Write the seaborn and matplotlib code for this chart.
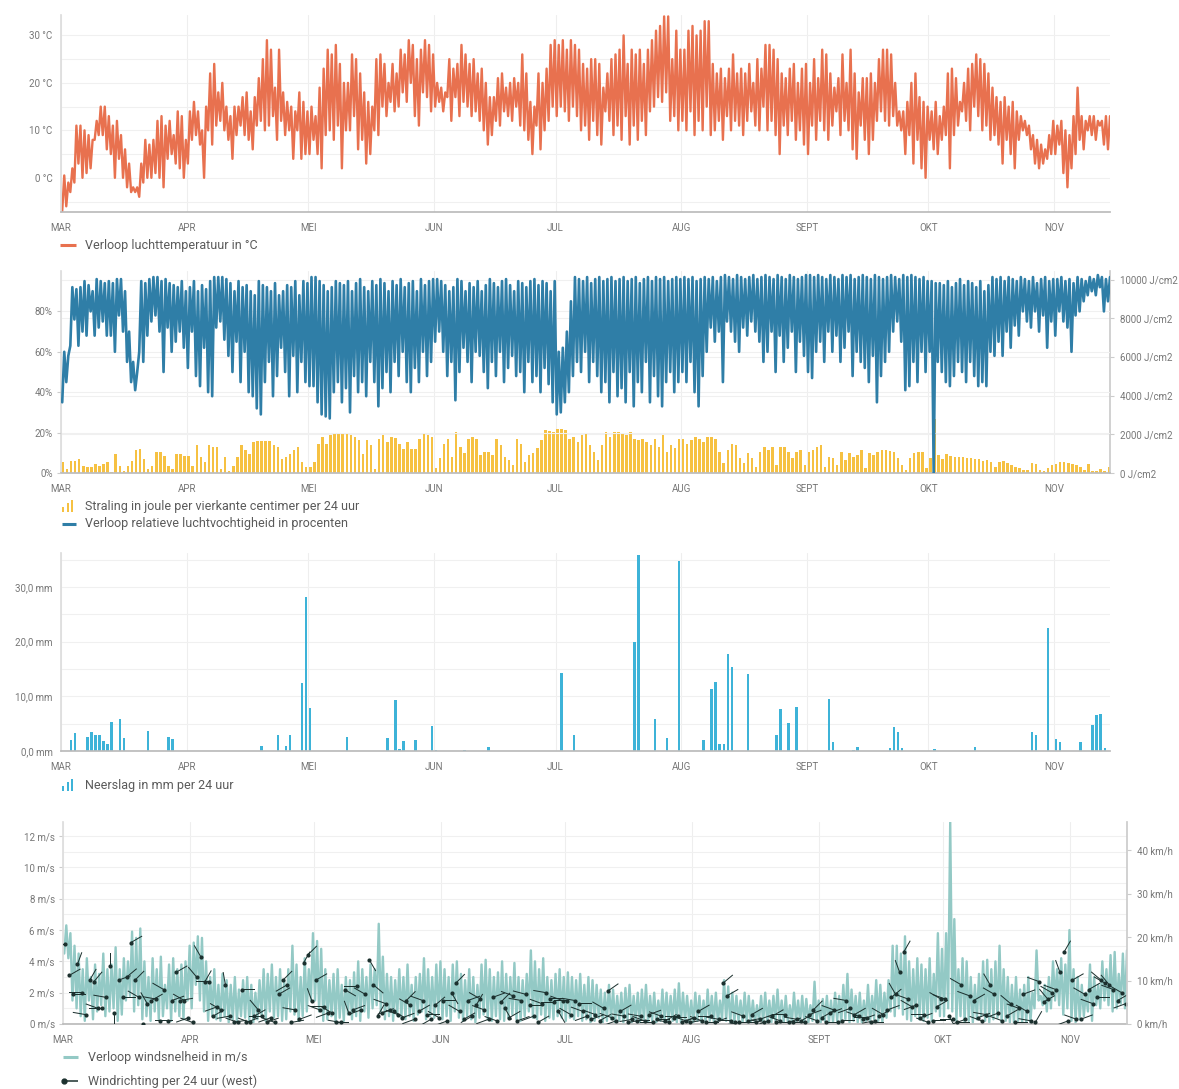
import numpy as np
import seaborn as sns
import matplotlib.pyplot as plt
from matplotlib.lines import Line2D
from matplotlib.patches import Rectangle

# months on the x axis (day index from 1 March)
month_labels = ['MAR', 'APR', 'MEI', 'JUN', 'JUL', 'AUG', 'SEPT', 'OKT', 'NOV']
month_start = [0, 31, 61, 92, 122, 153, 184, 214, 245]

# daily max / min air temperature (°C), Mar 1 .. Nov 14
temp_max = [0.5, -1, 2, 11, 11, 10, 9, 8, 12, 15, 15, 13, 11, 12, 9, 6, 3, -2, -2, 3, 8, 7, 8, 12, 13, 11, 12, 9, 14, 13, 8,
            14, 16, 14, 10, 15, 22, 24, 18, 20, 15, 13, 15, 15, 17, 18, 14, 17, 21, 25, 29, 27, 19, 27, 18, 16, 15, 14, 18, 16, 14,
            15, 13, 19, 23, 27, 26, 28, 24, 20, 20, 26, 25, 22, 18, 16, 15, 25, 26, 24, 20, 24, 22, 27, 26, 29, 28, 25, 27, 29, 28, 26,
            20, 19, 18, 25, 23, 24, 28, 26, 24, 25, 22, 23, 20, 17, 17, 21, 22, 19, 20, 21, 20, 26, 22, 16, 15, 22, 20, 23, 28, 29,
            28, 29, 27, 29, 28, 27, 24, 23, 25, 25, 24, 19, 22, 25, 26, 27, 30, 24, 27, 26, 27, 24, 27, 29, 31, 32, 34, 34, 25, 31, 27,
            27, 31, 32, 30, 31, 33, 33, 24, 22, 23, 21, 23, 26, 22, 23, 22, 24, 20, 25, 23, 28, 28, 27, 25, 22, 21, 23, 24, 20, 23, 24,
            20, 25, 21, 27, 26, 22, 19, 21, 26, 20, 27, 22, 18, 21, 21, 22, 20, 25, 27, 27, 26, 20, 14, 14, 16, 20, 22, 17, 16, 15,
            14, 16, 13, 15, 22, 23, 21, 16, 20, 23, 24, 26, 25, 24, 22, 19, 17, 16, 17, 15, 16, 14, 13, 12, 11, 9, 8, 7, 6, 9, 12,
            11, 12, 10, 9, 13, 19, 13, 12, 13, 13, 12, 12, 13, 13]
temp_min = [-7, -6, -3, -1, 3, 0, 1, 2, 8, 9, 9, 6, 5, 0, 4, 0, -2, -3, -3, -4, -1, 0, 0, 1, 0, -2, 4, 5, 3, 2, 0,
            3, 8, 9, 7, 0, 10, 7, 11, 12, 10, 8, 4, 9, 11, 9, 8, 6, 11, 12, 10, 11, 13, 8, 12, 9, 10, 4, 10, 4, 5,
            5, 8, 5, 2, 9, 10, 8, 11, 2, 10, 10, 13, 6, 8, 3, 5, 10, 9, 15, 13, 16, 14, 15, 18, 16, 20, 13, 11, 18, 17, 14,
            15, 16, 14, 17, 12, 17, 13, 16, 15, 13, 14, 12, 10, 7, 9, 12, 11, 14, 13, 12, 15, 11, 10, 8, 5, 11, 6, 10, 12, 15,
            13, 15, 14, 12, 15, 13, 10, 11, 8, 12, 9, 7, 14, 12, 9, 11, 8, 13, 7, 11, 8, 12, 9, 14, 15, 17, 16, 18, 12, 13, 10,
            12, 10, 14, 9, 12, 10, 15, 9, 10, 12, 8, 13, 10, 12, 11, 9, 12, 14, 11, 10, 15, 10, 12, 9, 5, 11, 9, 12, 8, 10, 7,
            5, 11, 8, 12, 10, 8, 11, 14, 9, 12, 10, 6, 4, 11, 8, 5, 8, 12, 14, 12, 11, 13, 11, 10, 5, 9, 3, 8, 2, 0,
            8, 6, 5, 8, 9, 2, 9, 11, 14, 12, 10, 15, 13, 10, 11, 8, 9, 7, 3, 8, 5, 2, 8, 10, 9, 6, 3, 2, 3, 4, 5,
            5, 7, 1, -2, 2, 5, 8, 6, 10, 9, 8, 11, 7, 6]

# daily max / min relative humidity (%)
hum_max = [60, 58, 92, 91, 92, 95, 93, 90, 96, 95, 94, 95, 94, 96, 96, 90, 70, 55, 50, 95, 94, 96, 97, 97, 95, 96, 94, 93, 92, 95, 90,
           92, 95, 90, 93, 91, 95, 97, 97, 97, 96, 94, 90, 95, 92, 93, 90, 88, 95, 93, 92, 90, 94, 88, 90, 93, 92, 95, 88, 95, 94,
           97, 97, 95, 93, 90, 92, 95, 94, 93, 95, 90, 94, 96, 92, 90, 95, 93, 96, 94, 90, 95, 93, 96, 92, 94, 95, 90, 96, 93, 95, 96,
           96, 95, 93, 90, 92, 96, 95, 90, 94, 92, 95, 90, 93, 96, 94, 92, 95, 96, 93, 90, 95, 94, 92, 95, 96, 93, 95, 94, 90, 95,
           60, 62, 70, 85, 97, 96, 95, 97, 94, 96, 97, 95, 96, 97, 95, 96, 97, 95, 96, 97, 94, 96, 97, 95, 97, 96, 97, 95, 96, 97, 96,
           97, 96, 97, 95, 96, 97, 96, 97, 95, 97, 98, 97, 96, 98, 97, 96, 97, 98, 96, 97, 98, 97, 96, 98, 97, 96, 98, 97, 96, 97, 98,
           98, 97, 98, 97, 96, 98, 97, 96, 98, 97, 98, 96, 97, 98, 97, 96, 98, 97, 96, 97, 98, 97, 96, 98, 97, 98, 97, 96, 97, 95,
           95, 94, 94, 93, 95, 92, 94, 96, 93, 95, 94, 92, 95, 90, 93, 97, 96, 97, 95, 97, 96, 95, 97, 96, 95, 97, 94, 96, 97, 95, 96,
           96, 97, 95, 96, 94, 97, 96, 95, 97, 96, 98, 97, 96, 97]
hum_min = [35, 45, 63, 76, 63, 70, 68, 80, 68, 72, 75, 68, 68, 60, 78, 70, 55, 45, 41, 60, 55, 68, 75, 78, 70, 50, 72, 60, 65, 70, 62,
           52, 70, 48, 43, 62, 40, 38, 72, 75, 66, 58, 50, 65, 45, 60, 40, 38, 32, 29, 45, 55, 38, 48, 62, 50, 38, 58, 40, 55, 45,
           43, 43, 35, 29, 28, 27, 40, 45, 35, 42, 30, 48, 40, 45, 38, 55, 45, 33, 42, 50, 40, 55, 48, 60, 45, 40, 52, 45, 60, 48, 55,
           65, 70, 60, 48, 55, 36, 50, 62, 55, 45, 60, 58, 50, 42, 55, 48, 60, 45, 52, 58, 48, 50, 40, 55, 45, 48, 40, 52, 44, 35,
           29, 30, 35, 40, 48, 55, 50, 60, 45, 55, 48, 40, 45, 35, 50, 38, 42, 35, 50, 33, 45, 40, 55, 35, 48, 38, 33, 45, 50, 40, 45,
           50, 45, 55, 40, 33, 48, 60, 72, 65, 70, 45, 75, 70, 65, 60, 72, 68, 75, 70, 65, 55, 60, 70, 50, 68, 55, 62, 70, 50, 65, 58,
           50, 47, 60, 65, 55, 70, 60, 68, 55, 62, 70, 48, 60, 55, 52, 45, 58, 35, 48, 55, 60, 70, 75, 65, 41, 43, 55, 45, 60, 50,
           60, 0, 55, 50, 45, 43, 48, 55, 50, 45, 55, 48, 43, 45, 43, 60, 58, 65, 58, 70, 62, 73, 68, 80, 75, 72, 80, 70, 78, 62, 75,
           68, 80, 75, 72, 60, 78, 80, 85, 88, 90, 88, 92, 80, 85]

# daily radiation (J/cm2)
radiation = [560, 210, 640, 640, 730, 380, 300, 300, 470, 380, 470, 560, 40, 990, 380, 120, 380, 640, 1170, 1250, 730, 210, 380, 1080, 1080, 900, 380, 210, 990, 990, 900,
             900, 380, 1430, 820, 560, 1430, 1340, 1340, 210, 820, 120, 380, 820, 1430, 1170, 990, 1600, 1640, 1640, 1640, 1640, 1430, 1340, 730, 820, 990, 1170, 1340, 560, 300,
             300, 560, 1510, 1860, 1510, 1950, 2030, 2070, 2070, 2030, 1950, 1860, 1690, 990, 1690, 1430, 210, 1770, 1950, 1600, 1860, 1810, 1510, 1250, 1600, 1250, 1250, 1770, 2030, 1950, 1860,
             240, 750, 1520, 1780, 840, 2120, 1350, 1010, 1780, 1860, 1780, 920, 1090, 1090, 920, 1780, 1440, 840, 670, 410, 1780, 1520, 580, 920, 1010, 1270, 1690, 2210, 2150, 2120,
             2290, 2290, 2210, 1780, 1860, 1610, 1950, 2030, 1440, 1090, 670, 1440, 2120, 1860, 2120, 2120, 2030, 1950, 2120, 1780, 1690, 1780, 1610, 1440, 1780, 1350, 1950, 1090, 1440, 1270, 1780,
             1780, 1520, 1690, 1860, 1780, 1610, 1860, 1860, 1780, 1090, 500, 1180, 1520, 1440, 750, 500, 1010, 750, 320, 1090, 1350, 1180, 1350, 410, 1350, 1350, 1090, 750, 1090, 1180, 410,
             1090, 1180, 1350, 1440, 320, 840, 750, 410, 1090, 670, 1010, 840, 920, 1180, 270, 1010, 920, 1090, 1180, 1180, 1130, 1090, 750, 410, 150, 750, 1010, 1060, 1090, 240,
             800, 2800, 950, 700, 1000, 900, 850, 850, 850, 750, 750, 700, 700, 600, 650, 550, 300, 550, 600, 500, 400, 300, 250, 150, 150, 500, 450, 150, 80, 250, 400,
             450, 550, 550, 500, 450, 400, 320, 150, 450, 80, 120, 200, 120, 300]

# rain (mm per 24 h): day index and amount, other days dry
rain_day = [2, 3, 6, 7, 8, 9, 10, 11, 12, 14, 15, 21, 26, 27, 49, 53, 55, 56, 59, 60,
            61, 70, 80, 82, 83, 84, 87, 91, 92, 99, 105, 123, 126, 141, 142, 146, 149, 152, 158, 160,
            161, 162, 163, 164, 165, 169, 176, 177, 179, 181, 189, 190, 195, 196, 204, 205, 206, 207, 215, 225,
            239, 240, 243, 245, 246, 251, 254, 255, 256, 257]
rain_mm = [2.1, 3.2, 2.6, 3.5, 3.0, 3.0, 1.8, 1.2, 5.3, 5.9, 2.4, 3.6, 2.6, 2.2, 0.9, 2.9, 0.9, 3.0, 12.4, 28.2,
           7.8, 2.6, 2.4, 9.3, 0.4, 1.9, 2.1, 4.5, 0.2, 0.2, 0.7, 14.2, 3.0, 20.0, 35.9, 5.9, 2.4, 34.7, 2.1, 11.4,
           12.7, 1.3, 1.3, 17.7, 15.3, 14.1, 3.0, 7.6, 5.2, 8.0, 9.5, 1.7, 0.2, 0.7, 0.6, 4.4, 3.5, 0.5, 0.3, 0.7,
           3.5, 2.9, 22.4, 2.2, 1.7, 1.7, 4.7, 6.5, 6.8, 0.6]

# daily max / min wind speed (m/s)
wind_max = [6.3, 5.8, 5.0, 4.5, 3.5, 4.2, 3.0, 3.8, 3.2, 4.5, 3.5, 3.8, 4.9, 3.5, 4.2, 4.0, 5.9, 5.5, 6.1, 4.0, 3.0, 4.2, 3.5, 4.3, 2.5, 3.8, 4.2, 3.5, 3.8, 4.0, 5.0,
            5.2, 5.6, 5.5, 4.0, 3.0, 3.5, 2.5, 3.2, 2.8, 2.5, 3.0, 2.2, 2.8, 3.0, 2.5, 2.0, 2.8, 3.5, 3.2, 3.8, 3.0, 3.5, 2.8, 3.5, 5.0, 3.8, 3.0, 4.2, 3.5, 5.8,
            5.3, 4.8, 3.5, 2.8, 3.2, 3.5, 2.5, 3.0, 2.8, 3.3, 4.0, 3.5, 3.0, 3.8, 3.5, 6.4, 4.3, 3.2, 3.0, 2.8, 3.5, 3.0, 3.8, 2.5, 3.0, 3.2, 4.2, 3.5, 3.0, 3.8, 4.0,
            3.5, 3.0, 3.8, 4.0, 3.2, 2.8, 3.5, 3.0, 2.5, 3.8, 4.1, 3.5, 3.0, 3.3, 4.0, 3.2, 3.0, 3.9, 3.0, 2.8, 3.2, 4.7, 4.0, 3.5, 4.2, 3.0, 2.8, 3.2, 3.5, 3.0,
            3.3, 3.0, 2.8, 3.2, 2.5, 3.0, 2.8, 2.5, 2.2, 2.0, 2.5, 2.2, 1.8, 2.0, 2.3, 2.5, 1.8, 2.0, 2.2, 2.5, 1.8, 2.0, 1.5, 2.2, 2.0, 1.8, 2.2, 2.6, 2.0, 1.8, 1.5,
            2.0, 1.8, 1.5, 2.2, 1.8, 2.0, 1.5, 2.8, 2.4, 2.0, 1.8, 1.5, 2.0, 1.8, 1.5, 1.2, 1.8, 2.0, 1.5, 1.8, 2.2, 1.5, 1.8, 1.2, 2.0, 1.5, 1.8, 1.6, 1.2, 2.7, 1.5,
            1.6, 1.8, 1.5, 2.0, 1.8, 2.5, 3.2, 2.2, 1.8, 2.0, 1.5, 2.5, 1.8, 2.8, 2.5, 2.0, 2.8, 5.0, 5.0, 4.5, 5.6, 4.0, 3.5, 4.2, 3.8, 3.5, 4.2, 3.2, 5.8, 4.8,
            5.8, 12.9, 6.7, 3.5, 4.2, 4.0, 3.0, 2.5, 3.2, 4.0, 4.1, 3.5, 4.0, 5.0, 3.5, 3.0, 2.5, 3.0, 2.2, 2.5, 3.0, 2.0, 4.7, 1.8, 2.5, 3.0, 4.0, 3.5, 4.2, 3.8, 6.0,
            3.5, 3.0, 2.5, 2.0, 3.8, 3.0, 2.5, 4.0, 3.5, 4.4, 4.6, 3.2, 4.5, 4.7]
wind_min = [4.5, 4.2, 1.5, 1.0, 0.5, 0.2, 1.5, 0.3, 0.8, 1.2, 0.5, 0.8, 1.0, 0.2, 0.6, 1.5, 1.8, 0.8, 1.2, 0.3, 0.5, 0.2, 0.8, 0.3, 0.5, 1.0, 0.2, 0.8, 0.5, 0.3, 1.5,
            1.0, 2.5, 1.5, 0.8, 0.2, 0.5, 0.3, 0.2, 0.5, 0.1, 0.3, 0.2, 0.5, 0.4, 0.2, 0.1, 0.3, 0.5, 0.2, 0.8, 0.4, 0.5, 0.2, 0.3, 0.8, 0.6, 0.2, 0.5, 0.8, 1.5,
            1.5, 0.8, 0.2, 0.3, 0.5, 0.1, 0.4, 0.2, 0.6, 0.3, 0.5, 0.2, 0.8, 0.4, 1.0, 1.2, 0.8, 0.3, 0.5, 0.2, 0.6, 0.4, 0.3, 0.5, 0.2, 0.6, 0.8, 0.3, 0.5, 0.4, 0.6,
            0.3, 0.5, 0.2, 0.8, 0.4, 0.2, 0.5, 0.3, 0.1, 0.4, 0.6, 0.3, 0.2, 0.5, 0.3, 0.2, 0.4, 0.6, 0.3, 0.2, 0.5, 0.8, 0.4, 0.3, 0.6, 0.2, 0.4, 0.3, 0.5, 0.4,
            0.2, 0.4, 0.3, 0.5, 0.2, 0.3, 0.1, 0.2, 0.4, 0.1, 0.2, 0.3, 0.1, 0.2, 0.1, 0.3, 0.1, 0.2, 0.1, 0.3, 0.1, 0.2, 0.1, 0.2, 0.1, 0.1, 0.2, 0.1, 0.1, 0.2, 0.1,
            0.1, 0.2, 0.1, 0.1, 0.2, 0.1, 0.1, 0.3, 0.2, 0.1, 0.1, 0.2, 0.1, 0.1, 0.1, 0.1, 0.2, 0.1, 0.1, 0.1, 0.2, 0.1, 0.1, 0.1, 0.1, 0.2, 0.1, 0.1, 0.1, 0.2, 0.1,
            0.1, 0.2, 0.1, 0.1, 0.2, 0.1, 0.3, 0.1, 0.2, 0.1, 0.1, 0.2, 0.1, 0.3, 0.2, 0.1, 0.4, 0.8, 0.5, 1.0, 0.6, 0.3, 0.2, 0.5, 0.3, 0.2, 0.4, 0.2, 0.8, 0.5,
            0.5, 1.0, 0.8, 0.2, 0.5, 0.1, 0.2, 0.1, 0.3, 0.5, 0.2, 0.1, 0.3, 0.4, 0.1, 0.2, 0.1, 0.1, 0.2, 0.1, 0.1, 0.1, 1.0, 1.5, 1.2, 0.8, 1.0, 1.5, 1.2, 0.6, 1.0,
            0.2, 0.1, 0.3, 0.5, 0.8, 0.2, 1.2, 1.0, 1.5, 1.2, 0.8, 1.0, 1.3, 1.0]

# daily wind direction marker: speed (m/s) and screen angle (degrees)
dir_speed = [5.1, 3.1, 1.9, 3.8, 2.0, 0.6, 2.8, 2.7, 1.0, 1.0, 1.7, 3.7, 0.7, 2.8, 1.7, 3.0, 5.2, 2.8, 1.7, 0.0, 1.3, 1.5, 1.6, 0.2, 2.2, 0.2, 1.5, 3.3, 1.5, 1.5, 0.4,
             0.1, 3.0, 4.3, 2.7, 2.7, 0.5, 1.1, 0.9, 2.5, 0.5, 0.1, 0.1, 2.2, 0.1, 0.1, 0.5, 0.9, 0.5, 0.1, 0.4, 0.1, 1.9, 2.8, 2.5, 0.1, 0.9, 0.3, 3.9, 4.4, 1.5,
             2.8, 0.9, 1.1, 0.7, 0.7, 0.1, 0.1, 2.2, 0.7, 0.9, 2.4, 0.9, 1.9, 4.1, 2.5, 0.5, 0.7, 1.3, 0.9, 0.8, 0.6, 0.4, 1.5, 1.2, 0.3, 0.8, 1.5, 0.6, 0.3, 1.2, 0.4,
             1.5, 0.2, 2.0, 2.6, 0.8, 0.3, 1.5, 0.5, 1.2, 1.6, 0.9, 0.3, 1.7, 0.2, 1.4, 1.0, 0.4, 1.8, 0.2, 1.5, 1.9, 1.2, 0.5, 0.1, 1.3, 2.0, 1.6, 1.4, 0.8, 1.5,
             1.5, 0.6, 1.5, 1.3, 0.8, 0.5, 0.3, 0.6, 0.2, 1.0, 2.1, 0.4, 0.2, 0.8, 0.5, 0.1, 0.3, 0.2, 0.5, 0.2, 0.6, 0.1, 0.3, 0.5, 0.2, 0.1, 0.4, 0.5, 0.1, 0.2, 0.1,
             0.4, 0.8, 0.2, 0.1, 0.5, 0.1, 0.3, 2.6, 1.8, 0.2, 0.1, 0.1, 0.5, 0.2, 0.6, 0.1, 0.3, 0.1, 0.2, 0.5, 0.1, 0.2, 0.6, 0.1, 0.1, 0.3, 0.2, 0.1, 0.6, 0.9, 0.2,
             0.4, 0.1, 0.7, 0.9, 0.1, 0.2, 1.5, 1.0, 0.6, 0.5, 0.3, 0.4, 0.1, 0.2, 0.5, 0.6, 0.9, 1.7, 1.9, 3.3, 4.6, 1.6, 1.1, 1.2, 0.4, 0.6, 0.1, 0.2, 1.1, 1.6,
             1.6, 0.5, 0.3, 0.1, 2.5, 0.3, 1.8, 1.5, 0.4, 0.2, 0.6, 2.5, 1.9, 0.7, 0.2, 0.5, 1.3, 0.1, 1.0, 1.9, 0.8, 0.2, 0.1, 2.7, 1.4, 1.6, 2.0, 2.2, 3.3, 4.6, 0.2,
             2.8, 0.3, 0.3, 1.9, 2.2, 1.3, 1.7, 2.8, 2.6, 2.5, 2.2, 1.5, 2.0, 1.3]
dir_angle = [180, 30, 0, 70, 180, 170, 60, 50, 160, 180, 170, 90, 270, 20, 0, 40, 30, 45, 150, 0, 120, 30, 170, 0, 150, 180, 20, 30, 10, 150, 200,
             160, 130, 120, 60, 180, 30, 200, 150, 100, 190, 10, 160, 0, 20, 160, 30, 130, 180, 20, 200, 160, 30, 45, 210, 10, 170, 20, 60, 45, 110,
             30, 160, 180, 200, 150, 0, 170, 330, 110, 20, 180, 200, 150, 300, 320, 60, 20, 160, 200, 330, 160, 20, 45, 150, 200, 30, 160, 0, 210, 40, 150,
             0, 200, 300, 45, 150, 30, 20, 210, 60, 150, 160, 200, 20, 160, 45, 300, 30, 160, 20, 170, 165, 0, 200, 30, 160, 170, 0, 180, 300, 160,
             180, 150, 170, 0, 160, 200, 20, 160, 30, 150, 35, 160, 200, 30, 170, 10, 190, 0, 170, 160, 20, 180, 0, 160, 30, 170, 0, 180, 20, 160, 10,
             200, 30, 160, 0, 180, 20, 170, 40, 30, 180, 0, 190, 160, 10, 30, 180, 20, 170, 200, 30, 0, 160, 180, 20, 0, 170, 30, 180, 20, 45, 160,
             30, 0, 20, 160, 180, 0, 170, 200, 30, 160, 20, 180, 0, 190, 30, 150, 20, 40, 120, 110, 60, 160, 150, 200, 20, 180, 160, 0, 30, 150,
             160, 300, 180, 0, 150, 200, 160, 30, 20, 160, 170, 120, 150, 200, 160, 30, 140, 0, 160, 20, 150, 170, 60, 160, 30, 130, 150, 160, 110, 60, 200,
             30, 160, 20, 150, 30, 160, 0, 140, 150, 130, 160, 30, 150, 200]

TEMP = '#E8714F'
HUM = '#2F7EA7'
RAD = '#F6C142'
RAIN = '#3DB3D8'
WIND = '#93C9C5'
DIR = '#1C302E'
TXT = '#5a5a5a'

sns.set_theme(style='white')
plt.rcParams['font.family'] = ['Roboto', 'DejaVu Sans']

W, H = 1179, 1089
fig = plt.figure(figsize=(W / 100, H / 100), dpi=100)


def px_axes(left, top, right, bottom):
    return fig.add_axes([left / W, 1 - bottom / H, (right - left) / W, (bottom - top) / H])


def zigzag(lo, hi):
    # one low and one high point per day
    n = len(lo)
    x = np.repeat(np.arange(n), 2) + np.tile([0.3, 0.8], n)
    y = np.column_stack([lo, hi]).ravel()
    return x, y


def style(ax, xmax):
    ax.set_xlim(0, xmax)
    ax.set_xticks(month_start)
    ax.set_xticklabels(month_labels)
    ax.tick_params(axis='both', which='major', length=3, width=0.8, pad=3,
                   labelsize=7, color='#cccccc', labelcolor='#777777')
    ax.tick_params(axis='y', which='minor', length=0)
    ax.tick_params(axis='x', pad=5)
    for s in ['top', 'right']:
        ax.spines[s].set_visible(False)
    ax.spines['left'].set_color('#dddddd')
    ax.spines['bottom'].set_color('#bbbbbb')
    ax.grid(True, axis='x', color='#eeeeee', lw=0.8)
    ax.grid(True, axis='y', which='both', color='#f0f0f0', lw=0.8)
    ax.set_axisbelow(True)
    ax.set_xlabel('')
    ax.set_ylabel('')


def right_ticks(ax, ticks, labels):
    ax.yaxis.tick_right()
    ax.set_yticks(ticks)
    ax.set_yticklabels(labels)
    ax.tick_params(axis='y', which='major', length=3, width=0.8, pad=4,
                   labelsize=7, color='#cccccc', labelcolor='#777777')


def legend_line(x0, x1, y, color, dot=False, lw=2.2):
    fig.add_artist(Line2D([x0 / W, x1 / W], [1 - y / H, 1 - y / H], transform=fig.transFigure,
                          color=color, lw=lw, solid_capstyle='butt'))
    if dot:
        fig.add_artist(Line2D([x0 / W], [1 - y / H], transform=fig.transFigure,
                              color=color, marker='o', markersize=3.5, lw=0))


def legend_bars(x0, ybase, color):
    for i, h in enumerate([5, 9, 12]):
        fig.add_artist(Rectangle(((x0 + i * 4.5) / W, 1 - ybase / H), 2.4 / W, h / H,
                                 transform=fig.transFigure, color=color, lw=0))


def legend_text(x, y, s):
    fig.text(x / W, 1 - y / H, s, fontsize=9, color=TXT, va='center', ha='left')


XMAX = 258.8

# ---- temperature
ax1 = px_axes(61, 15, 1110, 212)
tx, ty = zigzag(temp_min, temp_max)
sns.lineplot(x=tx, y=ty, ax=ax1, color=TEMP, lw=1.7, sort=False, estimator=None)
ax1.set_ylim(-7.2, 34.3)
ax1.set_yticks([0, 10, 20, 30])
ax1.set_yticklabels(['0 °C', '10 °C', '20 °C', '30 °C'])
ax1.set_yticks([-5, 5, 15, 25], minor=True)
style(ax1, XMAX)
legend_line(60, 76, 245, TEMP)
legend_text(85, 245, 'Verloop luchttemperatuur in °C')

# ---- radiation (host axes, right scale) + humidity (twin, left scale)
ax2 = px_axes(61, 271, 1110, 473)
days = np.arange(len(radiation)) + 0.5
ax2.bar(days, radiation, width=0.62, color=RAD, lw=0)
style(ax2, XMAX)
ax2.set_ylim(0, 10440)

ax2h = ax2.twinx()
hx, hy = zigzag(hum_min, hum_max)
sns.lineplot(x=hx, y=hy, ax=ax2h, color=HUM, lw=1.9, sort=False, estimator=None)
ax2h.set_xlim(0, XMAX)
ax2h.set_ylim(0, 100)
ax2h.yaxis.tick_left()
ax2h.yaxis.set_label_position('left')
ax2h.set_yticks([0, 20, 40, 60, 80])
ax2h.set_yticklabels(['0%', '20%', '40%', '60%', '80%'])
ax2h.tick_params(axis='y', length=3, width=0.8, pad=3, labelsize=7, color='#cccccc', labelcolor='#777777')
for s in ax2h.spines.values():
    s.set_visible(False)
ax2h.grid(True, axis='y', color='#f0f0f0', lw=0.8)
ax2h.set_ylabel('')

# twinx resets the host to the left side, so move it right afterwards
right_ticks(ax2, [0, 2000, 4000, 6000, 8000, 10000],
            ['0 J/cm2', '2000 J/cm2', '4000 J/cm2', '6000 J/cm2', '8000 J/cm2', '10000 J/cm2'])
ax2.spines['right'].set_visible(True)
ax2.spines['right'].set_color('#cccccc')
ax2.set_ylabel('')

legend_bars(62, 512, RAD)
legend_text(85, 507, 'Straling in joule per vierkante centimer per 24 uur')
legend_line(62, 76, 524, HUM)
legend_text(85, 523, 'Verloop relatieve luchtvochtigheid in procenten')

# ---- rain
ax3 = px_axes(61, 553, 1110, 751)
ax3.bar(np.array(rain_day) + 0.5, rain_mm, width=0.6, color=RAIN, lw=0)
ax3.set_ylim(0, 36.2)
ax3.set_yticks([0, 10, 20, 30])
ax3.set_yticklabels(['0,0 mm', '10,0 mm', '20,0 mm', '30,0 mm'])
ax3.set_yticks([5, 15, 25, 35], minor=True)
style(ax3, XMAX)
legend_bars(62, 791, RAIN)
legend_text(85, 786, 'Neerslag in mm per 24 uur')

# ---- wind
ax4 = px_axes(63, 822, 1127, 1024)
wx, wy = zigzag(wind_min, wind_max)
sns.lineplot(x=wx, y=wy, ax=ax4, color=WIND, lw=1.7, sort=False, estimator=None)
dx = np.arange(len(dir_speed)) + 0.5
th = np.deg2rad(dir_angle)
ax4.quiver(dx, dir_speed, np.cos(th), np.sin(th), angles='uv', scale_units='inches',
           scale=1 / 0.13, pivot='tail', units='dots', width=1.0,
           headwidth=0, headlength=0, headaxislength=0, color=DIR, zorder=4)
ax4.scatter(dx, dir_speed, s=9, color=DIR, zorder=5, lw=0)
ax4.set_ylim(0, 12.9)
ax4.set_yticks([0, 2, 4, 6, 8, 10, 12])
ax4.set_yticklabels([f'{v} m/s' for v in [0, 2, 4, 6, 8, 10, 12]])
ax4.set_yticks([1, 3, 5, 7, 9, 11], minor=True)
style(ax4, XMAX)

ax4k = ax4.twinx()
ax4k.set_ylim(0, 12.9 * 3.6)
right_ticks(ax4k, [0, 10, 20, 30, 40], [f'{v} km/h' for v in [0, 10, 20, 30, 40]])
for s in ax4k.spines.values():
    s.set_visible(False)
ax4k.spines['right'].set_visible(True)
ax4k.spines['right'].set_color('#cccccc')
ax4.yaxis.tick_left()

legend_line(63, 78, 1057, WIND)
legend_text(88, 1057, 'Verloop windsnelheid in m/s')
legend_line(64, 78, 1081, DIR, dot=True, lw=1.1)
legend_text(88, 1081, 'Windrichting per 24 uur (west)')

fig.savefig('out.png', dpi=100)
